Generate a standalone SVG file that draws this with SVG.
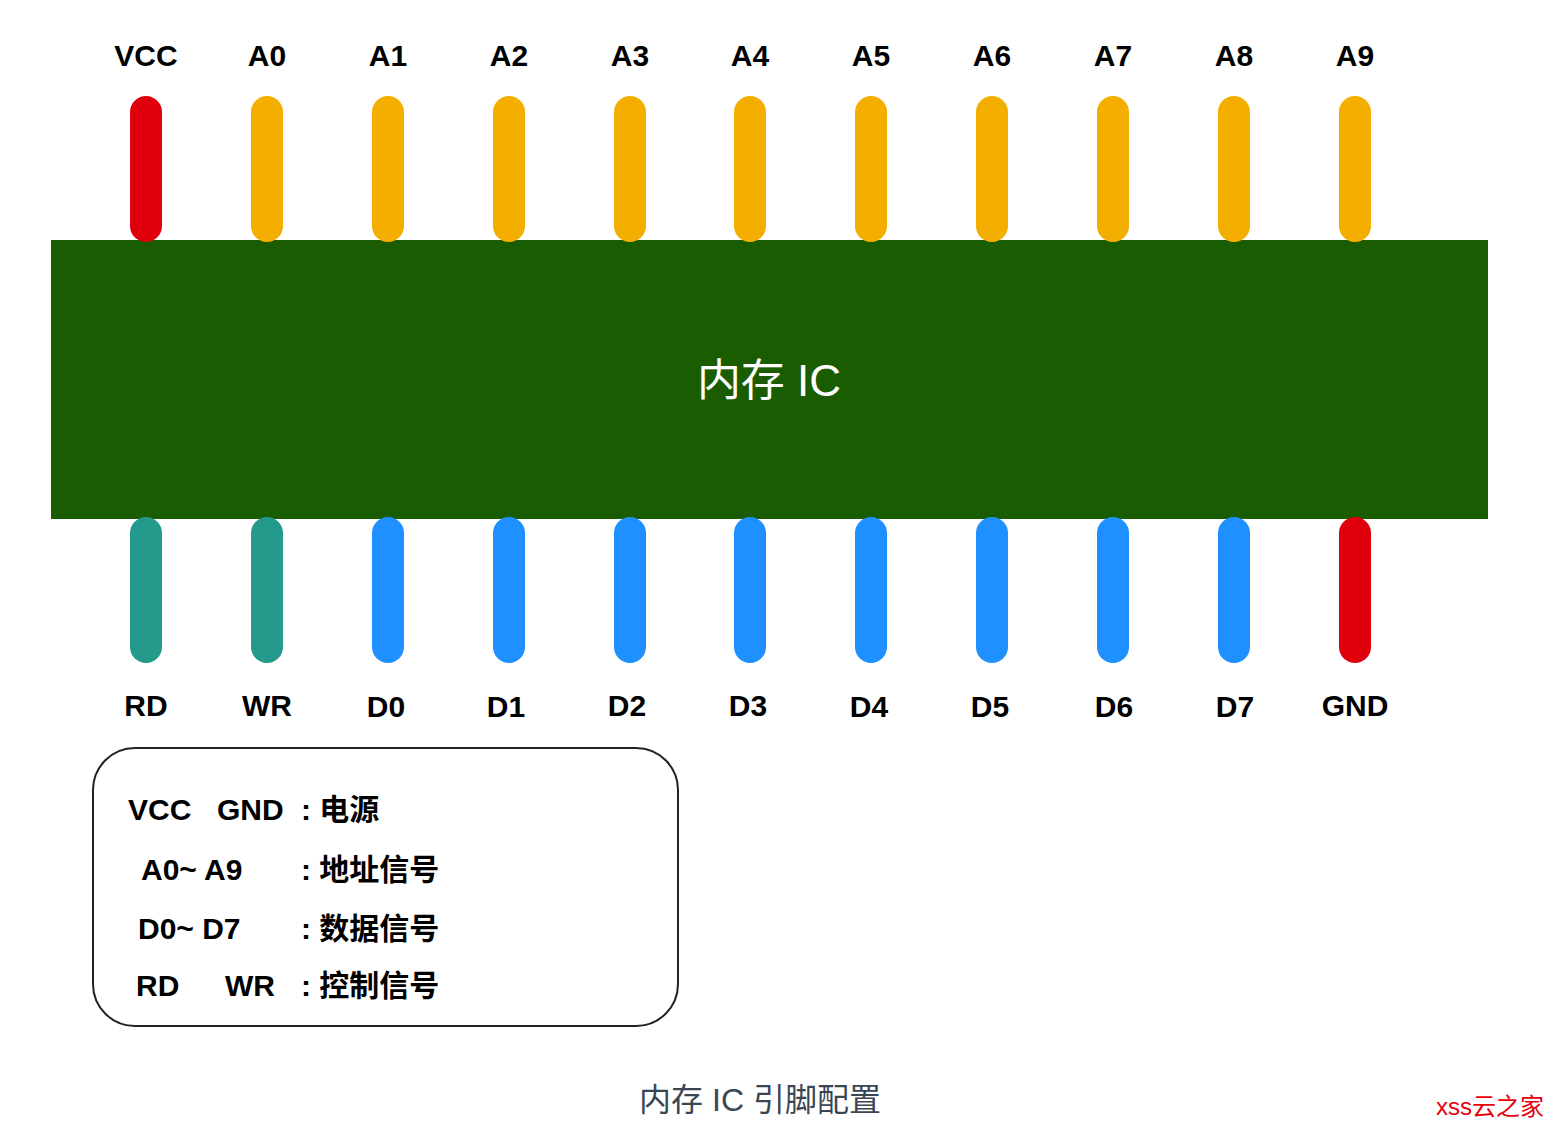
<svg xmlns="http://www.w3.org/2000/svg" width="1554" height="1128" viewBox="0 0 1554 1128">
<style>
.lbl{font-family:"Liberation Sans","Noto Sans CJK SC",sans-serif;font-weight:bold;font-size:30px;fill:#000;text-anchor:middle}
.leg{font-family:"Liberation Sans","Noto Sans CJK SC",sans-serif;font-weight:bold;font-size:30px;fill:#000}
.red{fill:#e0000d}
.org{fill:#f4ae00}
.teal{fill:#239a8b}
.blue{fill:#1e90ff}
</style>
<rect width="1554" height="1128" fill="#fff"/>
<g id="chip">
<rect x="51" y="240" width="1437" height="279" fill="#1a5c02"/>
<text x="769" y="396" font-family="'Liberation Sans','Noto Sans CJK SC',sans-serif" font-size="44" fill="#fff" text-anchor="middle">内存 IC</text>
</g>
<g id="top-pins">
<g id="pin-VCC"><rect class="red" x="130" y="96" width="32" height="146" rx="16"/><text class="lbl" x="146" y="66">VCC</text></g>
<g id="pin-A0"><rect class="org" x="251" y="96" width="32" height="146" rx="16"/><text class="lbl" x="267" y="66">A0</text></g>
<g id="pin-A1"><rect class="org" x="372" y="96" width="32" height="146" rx="16"/><text class="lbl" x="388" y="66">A1</text></g>
<g id="pin-A2"><rect class="org" x="493" y="96" width="32" height="146" rx="16"/><text class="lbl" x="509" y="66">A2</text></g>
<g id="pin-A3"><rect class="org" x="614" y="96" width="32" height="146" rx="16"/><text class="lbl" x="630" y="66">A3</text></g>
<g id="pin-A4"><rect class="org" x="734" y="96" width="32" height="146" rx="16"/><text class="lbl" x="750" y="66">A4</text></g>
<g id="pin-A5"><rect class="org" x="855" y="96" width="32" height="146" rx="16"/><text class="lbl" x="871" y="66">A5</text></g>
<g id="pin-A6"><rect class="org" x="976" y="96" width="32" height="146" rx="16"/><text class="lbl" x="992" y="66">A6</text></g>
<g id="pin-A7"><rect class="org" x="1097" y="96" width="32" height="146" rx="16"/><text class="lbl" x="1113" y="66">A7</text></g>
<g id="pin-A8"><rect class="org" x="1218" y="96" width="32" height="146" rx="16"/><text class="lbl" x="1234" y="66">A8</text></g>
<g id="pin-A9"><rect class="org" x="1339" y="96" width="32" height="146" rx="16"/><text class="lbl" x="1355" y="66">A9</text></g>
</g>
<g id="bottom-pins">
<g id="pin-RD"><rect class="teal" x="130" y="517" width="32" height="146" rx="16"/><text class="lbl" x="146" y="716">RD</text></g>
<g id="pin-WR"><rect class="teal" x="251" y="517" width="32" height="146" rx="16"/><text class="lbl" x="267" y="716">WR</text></g>
<g id="pin-D0"><rect class="blue" x="372" y="517" width="32" height="146" rx="16"/><text class="lbl" x="386" y="717">D0</text></g>
<g id="pin-D1"><rect class="blue" x="493" y="517" width="32" height="146" rx="16"/><text class="lbl" x="506" y="717">D1</text></g>
<g id="pin-D2"><rect class="blue" x="614" y="517" width="32" height="146" rx="16"/><text class="lbl" x="627" y="716">D2</text></g>
<g id="pin-D3"><rect class="blue" x="734" y="517" width="32" height="146" rx="16"/><text class="lbl" x="748" y="716">D3</text></g>
<g id="pin-D4"><rect class="blue" x="855" y="517" width="32" height="146" rx="16"/><text class="lbl" x="869" y="717">D4</text></g>
<g id="pin-D5"><rect class="blue" x="976" y="517" width="32" height="146" rx="16"/><text class="lbl" x="990" y="717">D5</text></g>
<g id="pin-D6"><rect class="blue" x="1097" y="517" width="32" height="146" rx="16"/><text class="lbl" x="1114" y="717">D6</text></g>
<g id="pin-D7"><rect class="blue" x="1218" y="517" width="32" height="146" rx="16"/><text class="lbl" x="1235" y="717">D7</text></g>
<g id="pin-GND"><rect class="red" x="1339" y="517" width="32" height="146" rx="16"/><text class="lbl" x="1355" y="716">GND</text></g>
</g>
<g id="connectors"></g>
<g id="legend">
<rect x="93" y="748" width="585" height="278" rx="42" fill="#fff" stroke="#222" stroke-width="2"/>
<text class="leg" x="128" y="820">VCC</text>
<text class="leg" x="217" y="820">GND</text>
<text class="leg" x="301" y="820">: 电源</text>
<text class="leg" x="141" y="880">A0~ A9</text>
<text class="leg" x="301" y="880">: 地址信号</text>
<text class="leg" x="138" y="939">D0~ D7</text>
<text class="leg" x="301" y="939">: 数据信号</text>
<text class="leg" x="136" y="996">RD</text>
<text class="leg" x="225" y="996">WR</text>
<text class="leg" x="301" y="996">: 控制信号</text>
</g>
<text id="caption" x="760" y="1111" font-family="'Liberation Sans','Noto Sans CJK SC',sans-serif" font-size="32" fill="#3b4655" text-anchor="middle">内存 IC 引脚配置</text>
<text id="watermark" x="1490" y="1115" font-family="'Liberation Sans','Noto Sans CJK SC',sans-serif" font-size="24" fill="#e8000b" text-anchor="middle">xss云之家</text>
</svg>
